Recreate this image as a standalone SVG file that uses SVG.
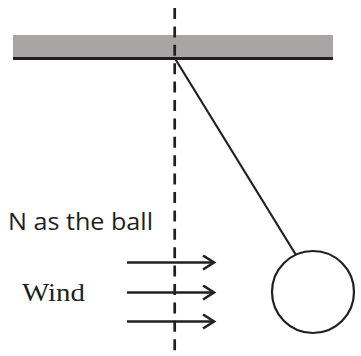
<svg xmlns="http://www.w3.org/2000/svg" width="361" height="356" viewBox="0 0 361 356">
<style>
.ln{stroke:#231f20;fill:none}
.sans{font-family:"Open Sans","Liberation Sans",sans-serif;fill:#231f20}
.serif{font-family:"Liberation Serif","Times New Roman",serif;fill:#231f20}
</style>
<defs>
<marker id="chev" markerUnits="userSpaceOnUse" markerWidth="16" markerHeight="18" refX="12" refY="8" orient="auto">
<path d="M1,1 L12,8 L1,15" fill="none" stroke="#231f20" stroke-width="2.6"/>
</marker>
</defs>
<g id="ceiling">
<rect x="13" y="35" width="320" height="23" fill="#a7a6a5"/>
<line class="ln" x1="13" y1="58.5" x2="333" y2="58.5" stroke-width="2.8"/>
</g>
<g id="axis">
<line class="ln" x1="174.7" y1="8" x2="174.7" y2="354" stroke-width="2.7" stroke-dasharray="11 7.4"/>
</g>
<g id="ball">
<line class="ln" x1="175" y1="58.5" x2="296" y2="255" stroke-width="2.2"/>
<circle class="ln" cx="313" cy="292" r="41" stroke-width="2.2"/>
</g>
<g id="connectors">
<line class="ln" x1="127" y1="262.5" x2="214" y2="262.5" stroke-width="2.6" marker-end="url(#chev)"/>
<line class="ln" x1="127" y1="292.5" x2="214" y2="292.5" stroke-width="2.6" marker-end="url(#chev)"/>
<line class="ln" x1="127" y1="321.5" x2="214" y2="321.5" stroke-width="2.6" marker-end="url(#chev)"/>
</g>
<g id="labels">
<text class="sans" x="8" y="230" font-size="24.5" textLength="145" lengthAdjust="spacingAndGlyphs">N as the ball</text>
<text class="serif" x="22" y="300.5" font-size="26" textLength="63" lengthAdjust="spacingAndGlyphs">Wind</text>
</g>
</svg>
